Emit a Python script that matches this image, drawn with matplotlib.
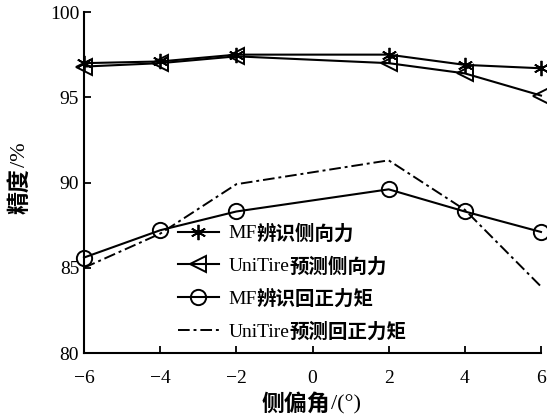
import matplotlib
matplotlib.use("Agg")
import matplotlib.pyplot as plt

# 侧偏角 (deg)
slip_angle = [-6, -4, -2, 2, 4, 6]

# 精度 (%)
mf_lateral = [97.0, 97.1, 97.5, 97.5, 96.9, 96.7]
unitire_lateral = [96.8, 97.0, 97.4, 97.0, 96.4, 95.1]
mf_moment = [85.6, 87.2, 88.3, 89.6, 88.3, 87.1]
unitire_moment = [85.0, 87.0, 89.9, 91.3, 88.4, 83.9]

series_latin = ["MF", "UniTire", "MF", "UniTire"]
series_cjk = ["辨识侧向力", "预测侧向力", "辨识回正力矩", "预测回正力矩"]

x_ticks = [-6, -4, -2, 0, 2, 4, 6]
y_ticks = [80, 85, 90, 95, 100]

SERIF = "Liberation Serif"
CJK = "Noto Sans CJK SC"

plt.rcParams["font.family"] = [SERIF, CJK]

fig = plt.figure(figsize=(5.47, 4.20), dpi=100)
ax = fig.add_axes([0.1536, 0.1595, 0.8354, 0.8119])

lw = 1.5
h1, = ax.plot(slip_angle, mf_lateral, color="black", lw=lw, marker=(6, 2, 0),
              markersize=11, markeredgewidth=1.3, clip_on=False)
h2, = ax.plot(slip_angle, unitire_lateral, color="black", lw=lw, marker="<",
              markersize=12, markerfacecolor="none", markeredgewidth=1.4, clip_on=False)
h3, = ax.plot(slip_angle, mf_moment, color="black", lw=lw, marker="o",
              markersize=11, markerfacecolor="none", markeredgewidth=1.4, clip_on=False)
h4, = ax.plot(slip_angle, unitire_moment, color="black", lw=1.4,
              linestyle=(0, (6, 2, 1.5, 2)), clip_on=False)

ax.set_xlim(-6, 6)
ax.set_ylim(80, 100)
ax.set_xticks(x_ticks)
ax.set_yticks(y_ticks)
ax.set_xticklabels([str(v).replace("-", "\u2212") for v in x_ticks])
ax.set_yticklabels([str(v) for v in y_ticks])
ax.tick_params(direction="in", length=5, width=1.3, labelsize=14)
ax.tick_params(axis="x", pad=12)

for s in ["top", "right"]:
    ax.spines[s].set_visible(False)
for s in ["left", "bottom"]:
    ax.spines[s].set_linewidth(1.5)

leg = ax.legend([h1, h2, h3, h4], series_latin, loc="lower left",
                bbox_to_anchor=(0.188, 0.013), frameon=False, fontsize=14,
                handlelength=2.1, handletextpad=0.5, labelspacing=0.78,
                borderaxespad=0)

# x label and y label: bold CJK part, Latin part placed after it
xl = fig.text(0.603, 0.01, "侧偏角", fontsize=16.5, fontweight="bold",
              family=[CJK], ha="right", va="bottom")
yl = fig.text(0.037, 0.49, "精度", fontsize=16.5, fontweight="bold",
              family=[CJK], rotation=90, ha="center", va="bottom")

fig.canvas.draw()
inv = fig.transFigure.inverted()

for t, cjk in zip(leg.get_texts(), series_cjk):
    bb = t.get_window_extent()
    x0, y0 = inv.transform((bb.x1, (bb.y0 + bb.y1) / 2))
    fig.text(x0, y0, cjk, fontsize=14, fontweight="bold", family=[CJK],
             ha="left", va="center")

bb = xl.get_window_extent()
x0, y0 = inv.transform((bb.x1 + 1, (bb.y0 + bb.y1) / 2))
fig.text(x0, y0, "/(°)", fontsize=16, family=[SERIF], ha="left", va="center")

bb = yl.get_window_extent()
x0, y0 = inv.transform(((bb.x0 + bb.x1) / 2, bb.y1 + 1))
fig.text(x0, y0, "/%", fontsize=16, family=[SERIF], rotation=90,
         ha="center", va="bottom")

fig.savefig("out.png", dpi=100)
